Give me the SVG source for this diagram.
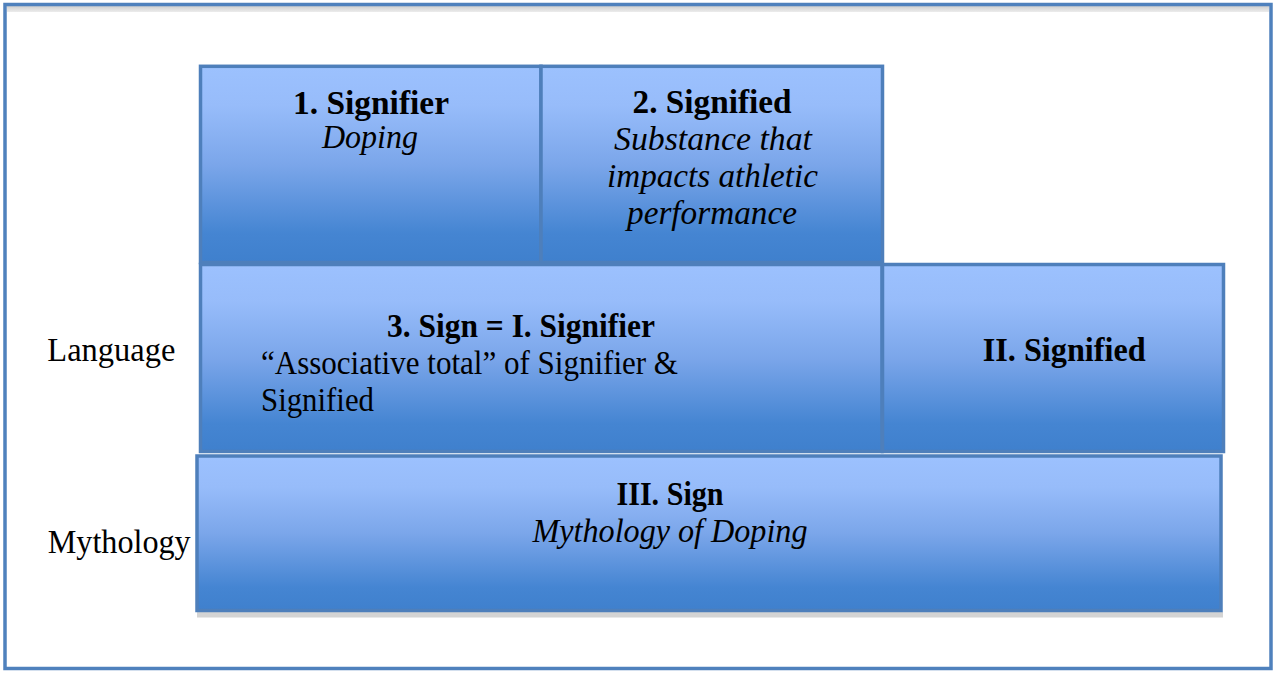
<svg xmlns="http://www.w3.org/2000/svg" width="1274" height="673" viewBox="0 0 1274 673">
<defs>
<linearGradient id="fill" x1="0" y1="0" x2="0" y2="1">
<stop offset="0" stop-color="#9cc1fe"/>
<stop offset="0.2" stop-color="#97bcfa"/>
<stop offset="0.5" stop-color="#7ba6ea"/>
<stop offset="0.85" stop-color="#4585d2"/>
<stop offset="1" stop-color="#3f80cd"/>
</linearGradient>
<linearGradient id="band" x1="0" y1="0" x2="0" y2="1">
<stop offset="0" stop-color="#cfcfcf"/>
<stop offset="1" stop-color="#ececec"/>
</linearGradient>
</defs>
<style>
.box{fill:url(#fill);stroke:#4e7fbb;stroke-width:3.5}
.shadow{fill:#d4d4d4}
.t{font-family:"Liberation Serif","Times New Roman",serif;font-size:33px;fill:#000}
.b{font-weight:bold}
.i{font-style:italic}
.m{text-anchor:middle}
</style>
<rect x="0" y="0" width="1274" height="673" fill="#ffffff"/>
<rect x="7" y="6" width="1262" height="6" fill="url(#band)"/>
<rect x="5" y="4.5" width="1266" height="664" fill="none" stroke="#4f81bd" stroke-width="3.5"/>
<g id="labels">
<text class="t" x="47.3" y="361" textLength="128" lengthAdjust="spacingAndGlyphs">Language</text>
<text class="t" x="47.7" y="553" textLength="143" lengthAdjust="spacingAndGlyphs">Mythology</text>
</g>
<g id="node-signifier">
<rect class="box" x="200.5" y="66.3" width="340.5" height="196.2"/>
<text class="t b m" x="371" y="114" textLength="156" lengthAdjust="spacingAndGlyphs">1. Signifier</text>
<text class="t i m" x="370" y="148" textLength="96" lengthAdjust="spacingAndGlyphs">Doping</text>
</g>
<g id="node-signified">
<rect class="box" x="541" y="66.3" width="341.5" height="196.2"/>
<text class="t b m" x="712" y="113" textLength="159" lengthAdjust="spacingAndGlyphs">2. Signified</text>
<text class="t i m" x="713" y="150" textLength="198" lengthAdjust="spacingAndGlyphs">Substance that</text>
<text class="t i m" x="712.5" y="187" textLength="211" lengthAdjust="spacingAndGlyphs">impacts athletic</text>
<text class="t i m" x="712" y="224" textLength="170" lengthAdjust="spacingAndGlyphs">performance</text>
</g>
<g id="node-sign">
<rect class="box" x="200.5" y="264.5" width="681.5" height="187"/>
<text class="t b" x="387" y="337" textLength="268" lengthAdjust="spacingAndGlyphs">3. Sign = I. Signifier</text>
<text class="t" x="261" y="374" textLength="417" lengthAdjust="spacingAndGlyphs">“Associative total” of Signifier &amp;</text>
<text class="t" x="261" y="411" textLength="113" lengthAdjust="spacingAndGlyphs">Signified</text>
</g>
<g id="node-II-signified">
<rect class="box" x="882.5" y="264.5" width="341" height="187"/>
<text class="t b" x="982.7" y="361" textLength="163" lengthAdjust="spacingAndGlyphs">II. Signified</text>
</g>
<g id="node-III-sign">
<rect class="shadow" x="197" y="612" width="1026" height="5.5"/>
<rect class="box" x="197" y="456" width="1024" height="154.5"/>
<text class="t b m" x="670" y="505" textLength="107" lengthAdjust="spacingAndGlyphs">III. Sign</text>
<text class="t i m" x="670" y="542" textLength="275" lengthAdjust="spacingAndGlyphs">Mythology of Doping</text>
</g>
<g id="connectors"/>
</svg>
